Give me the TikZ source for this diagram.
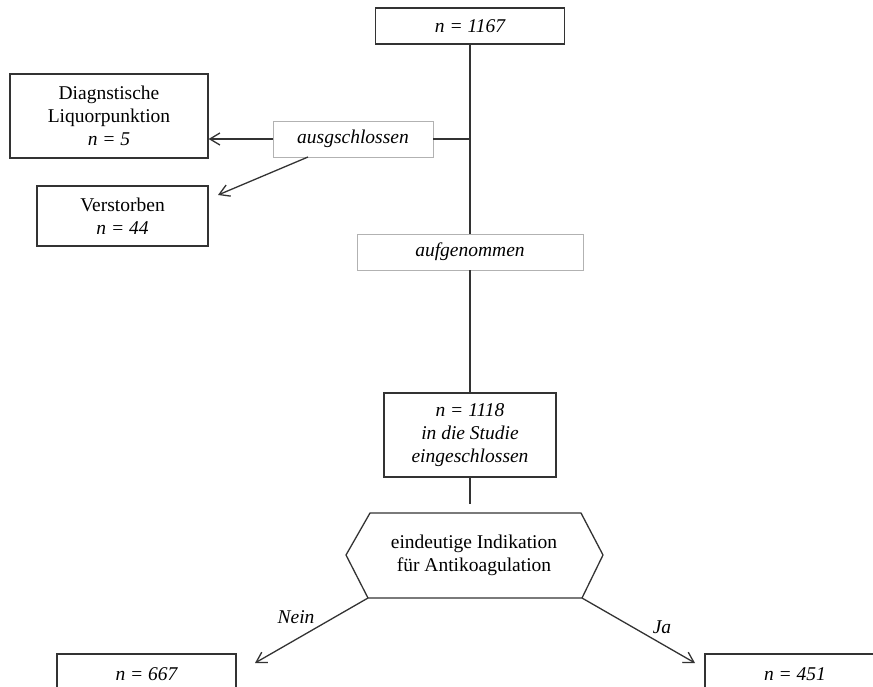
\documentclass[tikz,border=0pt]{standalone}
\usepackage{fontspec}
\setmainfont{Liberation Serif}
\usetikzlibrary{arrows.meta,calc}
\begin{document}
\begin{tikzpicture}[x=1pt,y=-1pt,
  every node/.style={font=\fontsize{19.5}{23}\selectfont, align=center, inner sep=0pt},
  box/.style={draw=black!80, line width=1.3pt, fill=white},
  lightbox/.style={draw=black!30, line width=0.9pt, fill=white},
  conn/.style={draw=black!80, line width=1.3pt},
  arr/.style={conn, -{Straight Barb[length=10pt,width=12pt,line width=1.3pt]}},
  lab/.style={font=\fontsize{19.5}{23}\selectfont\itshape}]
\useasboundingbox (0,0) rectangle (873,687);
% boxes
\node[box, minimum width=189pt, minimum height=36pt, font=\fontsize{19.5}{23}\selectfont\itshape] (top) at (470,26) {n = 1167};
\node[box, minimum width=198pt, minimum height=84pt] (diag) at (109,116) {Diagnstische\\Liquorpunktion\\\textit{n = 5}};
\node[box, minimum width=171pt, minimum height=60pt] (verst) at (122.5,216) {Verstorben\\\textit{n = 44}};
\node[lightbox, minimum width=160pt, minimum height=36pt, font=\fontsize{19.5}{23}\selectfont\itshape] (aus) at (353,139) {ausgschlossen};
\node[lightbox, minimum width=226pt, minimum height=36pt, font=\fontsize{19.5}{23}\selectfont\itshape] (aufg) at (470,252) {aufgenommen};
\node[box, minimum width=172pt, minimum height=84pt, font=\fontsize{19.5}{23}\selectfont\itshape] (inc) at (470,435) {n = 1118\\in die Studie\\eingeschlossen};
\node[box, minimum width=179pt, minimum height=40pt, font=\fontsize{19.5}{23}\selectfont\itshape] (nein) at (146.5,674) {n = 667};
\node[box, minimum width=180pt, minimum height=40pt, font=\fontsize{19.5}{23}\selectfont\itshape] (ja) at (795,674) {n = 451};
% hexagon
\coordinate (htl) at (370,513);
\coordinate (htr) at (581,513);
\coordinate (hr) at (603,555);
\coordinate (hbr) at (582,598);
\coordinate (hbl) at (368,598);
\coordinate (hl) at (346,555);
\draw[conn] (htl) -- (htr) -- (hr) -- (hbr) -- (hbl) -- (hl) -- cycle;
\node (hex) at (474,555) {eindeutige Indikation\\f\"ur Antikoagulation};
% connectors
\coordinate (j) at (470,139);
\coordinate (hexin) at (470,504);
\coordinate (ausdn) at (308,157);
\coordinate (verstin) at (218,195);
\coordinate (neinin) at (255,663);
\coordinate (jain) at (695,663);
\draw[conn] (top.south) -- (aufg.north);
\draw[conn] (aufg.south) -- (inc.north);
\draw[conn] (inc.south) -- (hexin);
\draw[conn] (aus.east) -- (j);
\draw[arr] (aus.west) -- (aus.west -| diag.east);
\draw[arr] (ausdn) -- (verstin);
\draw[arr] (hbl) -- (neinin);
\draw[arr] (hbr) -- (jain);
\node[lab] (neinlab) at (296,617) {Nein};
\node[lab] (jalab) at (662,627) {Ja};
\end{tikzpicture}
\end{document}
